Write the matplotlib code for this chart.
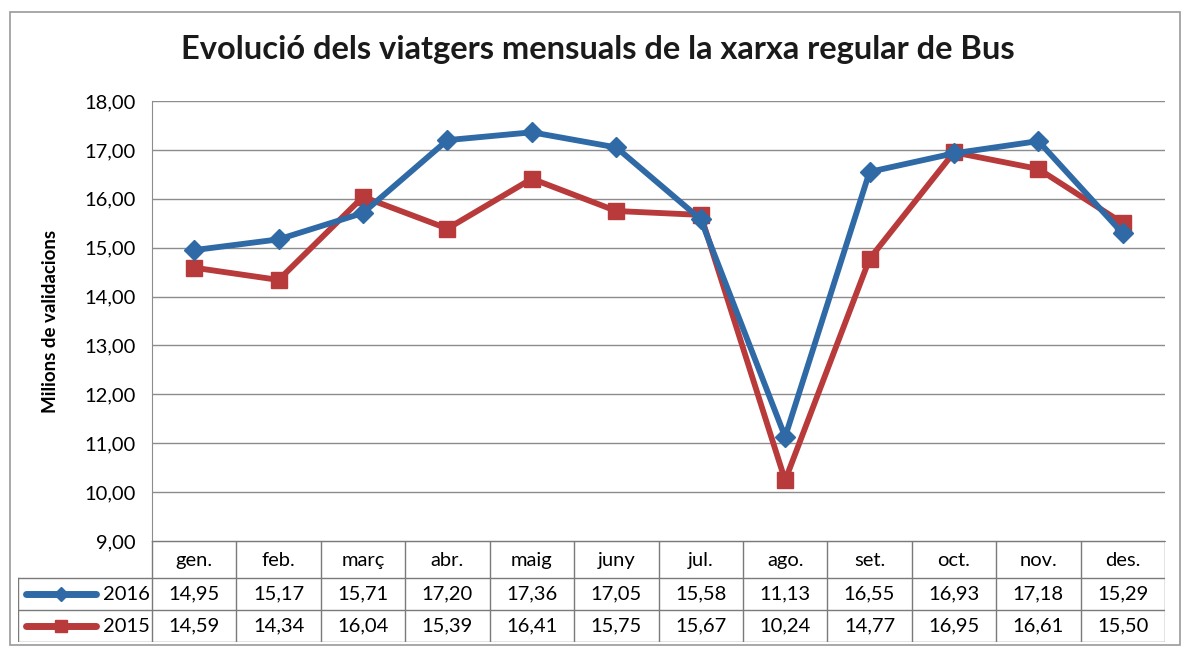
import matplotlib
matplotlib.use("Agg")
import matplotlib.pyplot as plt
from matplotlib.patches import Rectangle

plt.rcParams['font.family'] = ['Lato', 'DejaVu Sans']

months = ["gen.", "feb.", "març", "abr.", "maig", "juny", "jul.", "ago.", "set.", "oct.", "nov.", "des."]
v2016 = [14.95, 15.17, 15.71, 17.20, 17.36, 17.05, 15.58, 11.13, 16.55, 16.93, 17.18, 15.29]
v2015 = [14.59, 14.34, 16.04, 15.39, 16.41, 15.75, 15.67, 10.24, 14.77, 16.95, 16.61, 15.50]
yticks = [9, 10, 11, 12, 13, 14, 15, 16, 17, 18]
title = "Evolució dels viatgers mensuals de la xarxa regular de Bus"
ylabel = "Milions de validacions"

BLUE = "#2f6aa6"
RED = "#b83a3a"
W, H = 1189, 647
FS = 14.5

fig = plt.figure(figsize=(W / 100, H / 100), dpi=100)

def fx(px):
    return px / W

def fy(py):
    return 1 - py / H

# outer frame
fig.patches.append(Rectangle((fx(10), fy(645)), fx(1180) - fx(10), fy(12) - fy(645),
                             transform=fig.transFigure, fill=False, ec="#9a9a9a", lw=1.2))

L, R, T, B = 152, 1165, 101, 541
ax = fig.add_axes([fx(L), fy(B), fx(R) - fx(L), fy(T) - fy(B)])
x = list(range(len(months)))
ax.plot(x, v2015, color=RED, lw=4.2, marker="s", ms=12, mec=RED, mfc=RED, zorder=3)
ax.plot(x, v2016, color=BLUE, lw=4.2, marker="D", ms=10, mec=BLUE, mfc=BLUE, zorder=4)
ax.set_xlim(-0.5, len(months) - 0.5)
ax.set_ylim(9, 18)
ax.set_yticks(yticks)
ax.set_yticklabels([f"{t:.2f}".replace(".", ",") for t in yticks], fontsize=FS)
ax.set_xticks([])
ax.grid(axis="y", color="#8c8c8c", lw=1.0)
ax.set_axisbelow(True)
ax.tick_params(axis="y", length=0, pad=12)
for s in ax.spines.values():
    s.set_color("#8c8c8c")
ax.spines["top"].set_visible(False)
ax.spines["right"].set_visible(False)
ax.set_ylabel(ylabel, fontsize=13.5, fontweight="bold", labelpad=18)

fig.text(fx(598), fy(50), title, ha="center", va="center", fontsize=23.5, fontweight="bold", color="#1a1a1a")

# data table
TL = 18
tax = fig.add_axes([fx(TL), fy(642), fx(R) - fx(TL), fy(B) - fy(642)])
colw = (R - L) / len(months)
left_x = -0.5 - (L - TL) / colw
tax.set_xlim(left_x, len(months) - 0.5)
tax.set_ylim(101, 0)
tax.axis("off")
rows_y = [0, 37, 69, 101]
lc = "#7a7a7a"
tax.plot([-0.5, len(months) - 0.5], [rows_y[0]] * 2, color=lc, lw=1)
for yy in rows_y[1:]:
    tax.plot([left_x, len(months) - 0.5], [yy, yy], color=lc, lw=1)
for i in range(len(months) + 1):
    tax.plot([i - 0.5, i - 0.5], [0, 101], color=lc, lw=1)
tax.plot([left_x, left_x], [rows_y[1], 101], color=lc, lw=1)
for i, m in enumerate(months):
    tax.text(i, (rows_y[0] + rows_y[1]) / 2 + 1, m, ha="center", va="center", fontsize=FS)
    tax.text(i, (rows_y[1] + rows_y[2]) / 2, f"{v2016[i]:.2f}".replace(".", ","),
             ha="center", va="center", fontsize=FS)
    tax.text(i, (rows_y[2] + rows_y[3]) / 2, f"{v2015[i]:.2f}".replace(".", ","),
             ha="center", va="center", fontsize=FS)
# legend keys
for (lab, col, mk, ms, r) in [("2016", BLUE, "D", 7, 1), ("2015", RED, "s", 9, 2)]:
    yy = (rows_y[r] + rows_y[r + 1]) / 2
    x0 = left_x + 8 / colw
    x1 = left_x + 78 / colw
    tax.plot([x0, x1], [yy, yy], color=col, lw=5, solid_capstyle="round")
    tax.plot([(x0 + x1) / 2], [yy], marker=mk, ms=ms, color=col)
    tax.text(-0.52, yy, lab, ha="right", va="center", fontsize=FS)

fig.savefig("out.png", dpi=100, facecolor="white")
